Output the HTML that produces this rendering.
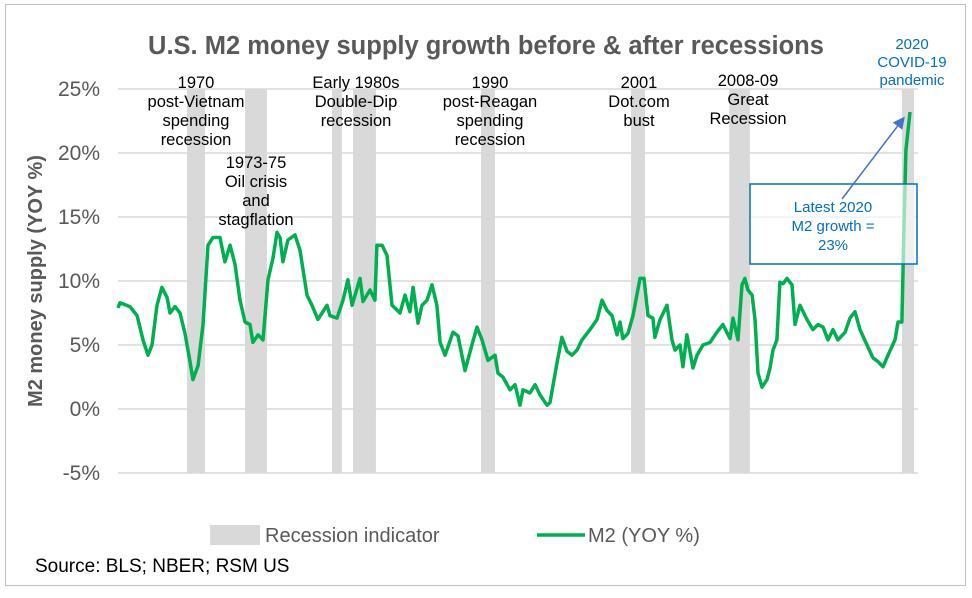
<!DOCTYPE html>
<html><head><meta charset="utf-8"><style>
body{margin:0;background:#fff;font-family:"Liberation Sans",sans-serif}
</style></head><body>
<svg id="chart" width="972" height="593" xmlns="http://www.w3.org/2000/svg" font-family="Liberation Sans, sans-serif">
<rect x="5.5" y="4.5" width="960" height="581" fill="#fff" stroke="#bfbfbf"/>
<text x="486" y="54" text-anchor="middle" font-size="25.5" font-weight="bold" fill="#595959">U.S. M2 money supply growth before &amp; after recessions</text>
<g id="grid"></g><g id="bars"></g><g id="yticks"></g><g id="line"></g>
<text transform="translate(42,281) rotate(-90)" text-anchor="middle" font-size="20" font-weight="bold" fill="#595959">M2 money supply (YOY %)</text>
<g font-size="16.5" fill="#000" text-anchor="middle">
<text x="196" y="88">1970</text><text x="196" y="107">post-Vietnam</text><text x="196" y="126">spending</text><text x="196" y="145">recession</text>
<text x="256" y="168">1973-75</text><text x="256" y="187">Oil crisis</text><text x="256" y="206">and</text><text x="256" y="225">stagflation</text>
<text x="356" y="88">Early 1980s</text><text x="356" y="107">Double-Dip</text><text x="356" y="126">recession</text>
<text x="490" y="88">1990</text><text x="490" y="107">post-Reagan</text><text x="490" y="126">spending</text><text x="490" y="145">recession</text>
<text x="639" y="88">2001</text><text x="639" y="107">Dot.com</text><text x="639" y="126">bust</text>
<text x="748" y="86">2008-09</text><text x="748" y="105">Great</text><text x="748" y="124">Recession</text>
</g>
<g font-size="15" fill="#0070c0" text-anchor="middle">
<text x="912" y="49">2020</text><text x="912" y="67">COVID-19</text><text x="912" y="85">pandemic</text>
</g>
<rect x="750" y="184" width="167" height="80" fill="#fff" fill-opacity="0.6" stroke="#0070c0" stroke-width="1.5"/>
<g font-size="15" fill="#0070c0" text-anchor="middle">
<text x="833" y="212">Latest 2020</text><text x="833" y="231">M2 growth =</text><text x="833" y="250">23%</text>
</g>
<defs><marker id="ah" markerWidth="8" markerHeight="8" refX="6" refY="4" orient="auto"><path d="M0,0 L8,4 L0,8 z" fill="#4472c4"/></marker></defs>
<line x1="842" y1="199" x2="903" y2="119" stroke="#4472c4" stroke-width="1.5" marker-end="url(#ah)"/>
<rect x="210" y="525" width="50" height="20" fill="#d9d9d9"/>
<text x="265" y="542" font-size="20" fill="#595959">Recession indicator</text>
<line x1="537" y1="535" x2="585" y2="535" stroke="#00b050" stroke-width="3.5"/>
<text x="588" y="542" font-size="20" fill="#595959">M2 (YOY %)</text>
<text x="35" y="572" font-size="19" fill="#000">Source: BLS; NBER; RSM US</text>
</svg>
<script>
const yTicks=[25,20,15,10,5,0,-5];
const recStart=[1969.85,1973.93,1980.05,1981.53,1990.53,2001.08,2007.99,2020.13];
const recEnd=[1971.12,1975.48,1980.75,1983.14,1991.51,2002.06,2009.44,2020.98];
const years=[1965.0,1965.14,1965.84,1966.34,1966.76,1967.11,1967.39,1967.74,1968.09,1968.45,1968.66,1969.01,1969.36,1969.71,1970.06,1970.27,1970.63,1970.98,1971.33,1971.68,1972.17,1972.52,1972.88,1973.23,1973.58,1973.93,1974.28,1974.49,1974.85,1975.2,1975.55,1975.9,1976.18,1976.39,1976.6,1976.95,1977.45,1977.8,1978.29,1978.64,1979.06,1979.7,1979.91,1980.4,1980.82,1981.17,1981.46,1982.02,1982.23,1982.72,1983.07,1983.21,1983.57,1983.92,1984.27,1984.83,1985.18,1985.53,1985.75,1986.1,1986.38,1986.73,1987.08,1987.43,1987.65,1988.0,1988.56,1988.91,1989.4,1989.89,1990.25,1990.6,1991.02,1991.51,1991.72,1992.07,1992.57,1992.92,1993.27,1993.48,1993.97,1994.33,1994.68,1995.17,1995.38,1995.87,1996.22,1996.58,1996.93,1997.28,1997.63,1998.19,1998.69,1999.04,1999.39,1999.74,2000.09,2000.3,2000.51,2000.86,2001.22,2001.71,2001.99,2002.27,2002.62,2002.76,2003.12,2003.61,2003.96,2004.17,2004.52,2004.73,2005.01,2005.44,2005.72,2006.14,2006.63,2007.12,2007.54,2008.04,2008.25,2008.6,2008.88,2009.09,2009.3,2009.59,2009.8,2010.01,2010.29,2010.64,2010.85,2011.06,2011.34,2011.55,2011.77,2012.05,2012.4,2012.61,2012.96,2013.45,2013.87,2014.23,2014.58,2014.93,2015.28,2015.63,2016.13,2016.48,2016.83,2017.18,2017.67,2018.09,2018.45,2018.8,2019.15,2019.64,2019.85,2020.13,2020.27,2020.41,2020.7];
const m2=[7.9,8.3,8.0,7.3,5.4,4.2,5.0,8.1,9.5,8.7,7.5,8.0,7.5,5.9,3.7,2.3,3.4,6.6,12.8,13.4,13.4,11.5,12.8,11.3,8.5,6.8,6.6,5.2,5.8,5.4,10.1,11.8,13.8,13.4,11.5,13.2,13.6,12.4,8.9,8.1,7.0,8.1,7.3,7.1,8.5,10.1,8.1,10.2,8.4,9.3,8.5,12.8,12.8,12.0,8.1,7.5,8.9,7.6,9.5,6.7,8.1,8.5,9.7,8.1,5.2,4.2,6.0,5.7,3.0,5.0,6.4,5.4,3.8,4.2,2.8,2.5,1.5,1.9,0.3,1.5,1.25,1.9,1.1,0.3,0.5,3.6,5.6,4.5,4.2,4.6,5.4,6.2,7.0,8.5,7.7,7.3,5.8,6.8,5.5,5.9,7.3,10.2,10.2,7.3,7.1,5.6,7.0,8.1,5.4,4.6,5.0,3.3,5.8,3.2,4.2,5.0,5.2,6.0,6.6,5.5,7.1,5.4,9.7,10.2,9.3,8.9,7.0,2.8,1.7,2.3,3.2,4.6,5.4,9.9,9.8,10.2,9.7,6.6,8.1,7.0,6.2,6.6,6.4,5.4,6.2,5.4,6.0,7.1,7.6,6.2,5.0,4.0,3.7,3.3,4.2,5.4,6.8,6.8,14.0,20.2,23.2];
const X0=118,X1=918,T0=1965.0,T1=2021.26,Y0=409,PX=12.8;
const xs=t=>X0+(t-T0)/(T1-T0)*(X1-X0);
const ys=v=>Y0-v*PX;
const NS='http://www.w3.org/2000/svg';
const mk=(tag,a,p)=>{const e=document.createElementNS(NS,tag);for(const k in a)e.setAttribute(k,a[k]);p.appendChild(e);return e;};
const grid=document.getElementById('grid'),yt=document.getElementById('yticks');
yTicks.forEach(v=>{
 const l=mk('line',{x1:X0,x2:X1,y1:ys(v),y2:ys(v),stroke:'#d9d9d9','stroke-width':1.5},grid);
 
 
 const t=mk('text',{x:100,y:ys(v)+7,'text-anchor':'end','font-size':21,fill:'#595959'},yt);
 t.textContent=v+'%';
 
 
});
const bars=document.getElementById('bars');
recStart.forEach((s,i)=>{
 const r=mk('rect',{x:xs(s),y:ys(25),width:xs(recEnd[i])-xs(s),height:ys(-5)-ys(25),fill:'#d9d9d9'},bars);
 
 
});
const d=years.map((t,i)=>(i?'L':'M')+xs(t).toFixed(1)+','+ys(m2[i]).toFixed(1)).join(' ');
const p=mk('path',{d:d,fill:'none',stroke:'#00b050','stroke-width':3.5,'stroke-linejoin':'round'},document.getElementById('line'));


</script>
</body></html>
